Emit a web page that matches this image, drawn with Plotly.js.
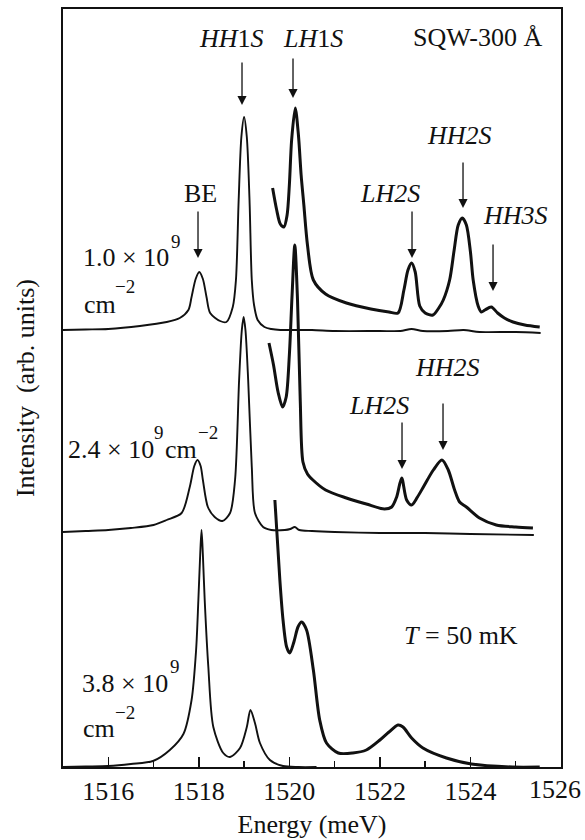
<!DOCTYPE html>
<html>
<head>
<meta charset="utf-8">
<script src="https://cdn.plot.ly/plotly-3.0.1.min.js"></script>
<style>html,body{margin:0;padding:0;background:#fff;}#chart{width:585px;height:840px;}</style>
</head>
<body>
<div id="chart"></div>
<script>
// ---- Data (energy in meV, intensity in arb. units) ----
// 1.0e9 cm^-2 : full spectrum (low gain)
var e1 = [1515.0,1515.5,1516.0,1516.7,1517.29,1517.58,1517.77,1517.84,1517.93,1518.01,1518.09,1518.17,1518.25,1518.47,1518.61,1518.75,1518.82,1518.88,1518.94,1519.0,1519.06,1519.12,1519.17,1519.22,1519.3,1519.45,1519.6,1519.8,1520.0,1520.5,1521.0,1522.0,1522.45,1522.7,1522.95,1523.5,1523.85,1524.2,1525.0,1525.55];
var i1 = [437,437.5,438,441,445,449,457,470,488,495,488,470,454,446,445,460,487,567,630,650,630,567,487,462,447,440,438,437,437,437,436,436,436,438,436,436,437,435,435,434];
// 1.0e9 cm^-2 : magnified part
var e1m = [1519.63,1519.72,1519.8,1519.88,1519.95,1520.0,1520.05,1520.13,1520.2,1520.26,1520.32,1520.4,1520.53,1520.8,1521.26,1521.8,1522.2,1522.4,1522.53,1522.62,1522.7,1522.78,1522.88,1523.0,1523.17,1523.3,1523.4,1523.54,1523.64,1523.73,1523.82,1523.91,1524.0,1524.06,1524.17,1524.24,1524.32,1524.46,1524.6,1524.75,1524.94,1525.2,1525.53];
var i1m = [579,557,543,540,552,582,627,659,632,592,562,522,487,473,464,458,455,454,477,497,504,495,461,454,452,459,467,487,517,542,549,542,515,487,461,455,457,460,454,449,445,442,440];
// 2.4e9 cm^-2 : full spectrum
var e2 = [1515.0,1515.5,1516.0,1516.5,1517.0,1517.29,1517.62,1517.8,1517.9,1517.97,1518.04,1518.09,1518.2,1518.35,1518.52,1518.69,1518.8,1518.89,1518.95,1518.99,1519.03,1519.09,1519.17,1519.24,1519.42,1519.6,1519.9,1520.02,1520.12,1520.22,1520.5,1521.0,1522.0,1523.0,1524.0,1525.4];
var i2 = [235,236,237,239,242,247,254,280,301,307,301,287,260,250,246,254,287,387,437,450,437,387,300,254,240,237,237,238,240,237,236,235,234,234,233,232];
// 2.4e9 cm^-2 : magnified part
var e2m = [1519.55,1519.65,1519.75,1519.85,1519.93,1520.0,1520.06,1520.12,1520.18,1520.24,1520.3,1520.4,1520.52,1520.8,1521.26,1521.7,1522.1,1522.26,1522.37,1522.48,1522.59,1522.7,1522.83,1522.96,1523.18,1523.37,1523.51,1523.65,1523.76,1523.91,1524.2,1524.57,1525.0,1525.38];
var i2m = [424,402,375,360,370,412,472,522,467,367,305,293,287,277,269,263,258,260,270,289,267,262,270,280,297,307,297,277,265,260,249,242,240,239];
// 3.8e9 cm^-2 : full spectrum
var e3 = [1515.0,1515.5,1516.0,1516.5,1516.99,1517.36,1517.66,1517.84,1517.94,1517.99,1518.03,1518.06,1518.09,1518.13,1518.21,1518.32,1518.54,1518.69,1518.91,1519.06,1519.14,1519.24,1519.35,1519.57,1519.86,1520.2,1520.6];
var i3 = [0,0.5,1,3,6,17,33,67,117,167,212,237,212,167,100,40,14,10,19,40,57,44,24,7,1,0,0];
// 3.8e9 cm^-2 : magnified part
var e3m = [1519.68,1519.79,1519.86,1519.94,1520.01,1520.1,1520.19,1520.27,1520.38,1520.53,1520.67,1520.82,1521.08,1521.4,1521.7,1522.0,1522.2,1522.4,1522.51,1522.7,1522.95,1523.47,1524.02,1524.93,1525.53];
var i3m = [267,187,147,120,114,125,140,145,137,97,47,24,14,14,17,27,35,42,40,29,19,9,3,0,0];

var xTickVals = [1516,1518,1520,1522,1524,1526];
var xTickText = ['1516','1518','1520','1522','1524',''];
var lastTickText = '1526';   // drawn separately so it stays inside the page

var FONT = 'Liberation Serif, Times New Roman, serif';
var INK = '#111111';

function thin(x, y) {
  return {x: x, y: y, type: 'scatter', mode: 'lines', hoverinfo: 'skip',
          line: {color: INK, width: 1.9, shape: 'spline', smoothing: 0.8}, showlegend: false};
}
function thick(x, y) {
  return {x: x, y: y, type: 'scatter', mode: 'lines', hoverinfo: 'skip',
          line: {color: INK, width: 3.0, shape: 'spline', smoothing: 0.8}, showlegend: false};
}
var traces = [thin(e1, i1), thick(e1m, i1m), thin(e2, i2), thick(e2m, i2m), thin(e3, i3), thick(e3m, i3m)];

// helpers: pixel position to data coordinates
function ex(px) { return 1515 + (px - 63) / 45.27; }
function iy(py) { return 767 - py; }

function label(px, py, text, size) {
  return {x: ex(px), y: iy(py), xref: 'x', yref: 'y', text: text, showarrow: false,
          font: {family: FONT, size: size || 26, color: INK}, xanchor: 'center', yanchor: 'middle'};
}
function arrow(px, pyTop, pyHead) {
  return {x: ex(px), y: iy(pyHead), xref: 'x', yref: 'y', text: '', showarrow: true,
          ax: 0, ay: -(pyHead - pyTop), arrowhead: 2, arrowsize: 1.4, arrowwidth: 1.3,
          arrowcolor: INK, standoff: 0, startstandoff: 0};
}

var annotations = [
  label(231, 38, '<i>HH</i>1<i>S</i>'),
  label(313, 38, '<i>LH</i>1<i>S</i>'),
  label(478, 37, 'SQW-300 Å'),
  label(459, 135, '<i>HH2S</i>'),
  label(390, 193, '<i>LH2S</i>'),
  label(515, 215, '<i>HH3S</i>'),
  label(200, 193, 'BE'),
  label(126, 257, '1.0 × 10'),
  label(176, 241, '9', 19),
  label(100, 304, 'cm'),
  label(125, 286, '−2', 19),
  label(111, 449, '2.4 × 10'),
  label(159, 432, '9', 19),
  label(181, 449, 'cm'),
  label(208, 432, '−2', 19),
  label(379, 405, '<i>LH2S</i>'),
  label(447, 367, '<i>HH2S</i>'),
  label(461, 635, '<i>T</i> = 50 mK'),
  label(125, 683, '3.8 × 10'),
  label(175, 666, '9', 19),
  label(99, 728, 'cm'),
  label(125, 712, '−2', 19),
  {x: (583 - 63) / 498, y: (767 - 789) / 758, xref: 'paper', yref: 'paper', text: lastTickText,
   showarrow: false, xanchor: 'right', yanchor: 'middle', font: {family: FONT, size: 26, color: INK}},
  arrow(242, 61, 105),
  arrow(293, 57, 98),
  arrow(198, 210, 258),
  arrow(412, 210, 258),
  arrow(463, 161, 208),
  arrow(493, 243, 291),
  arrow(402, 421, 469),
  arrow(443, 402, 450)
];

var layout = {
  width: 585, height: 840,
  margin: {l: 63, r: 24, t: 9, b: 73, pad: 0},
  paper_bgcolor: '#ffffff', plot_bgcolor: '#ffffff',
  font: {family: FONT, size: 26, color: INK},
  showlegend: false,
  xaxis: {
    range: [1515, 1526], tickmode: 'array', tickvals: xTickVals, ticktext: xTickText,
    ticks: 'inside', ticklen: 10, tickwidth: 1.4, tickcolor: INK,
    minor: {tickmode: 'linear', tick0: 1515, dtick: 1, ticks: 'inside', ticklen: 6, tickwidth: 1.4, tickcolor: INK},
    showline: true, linecolor: INK, linewidth: 1.6, mirror: true,
    showgrid: false, zeroline: false,
    tickfont: {family: FONT, size: 26, color: INK},
    title: {text: 'Energy (meV)', font: {family: FONT, size: 26, color: INK}, standoff: 10}
  },
  yaxis: {
    range: [0, 758], showticklabels: false, ticks: '',
    showline: true, linecolor: INK, linewidth: 1.6, mirror: true,
    showgrid: false, zeroline: false,
    title: {text: 'Intensity  (arb. units)', font: {family: FONT, size: 26, color: INK}, standoff: 19}
  },
  annotations: annotations
};

Plotly.newPlot('chart', traces, layout, {staticPlot: true, displayModeBar: false});
</script>
</body>
</html>
